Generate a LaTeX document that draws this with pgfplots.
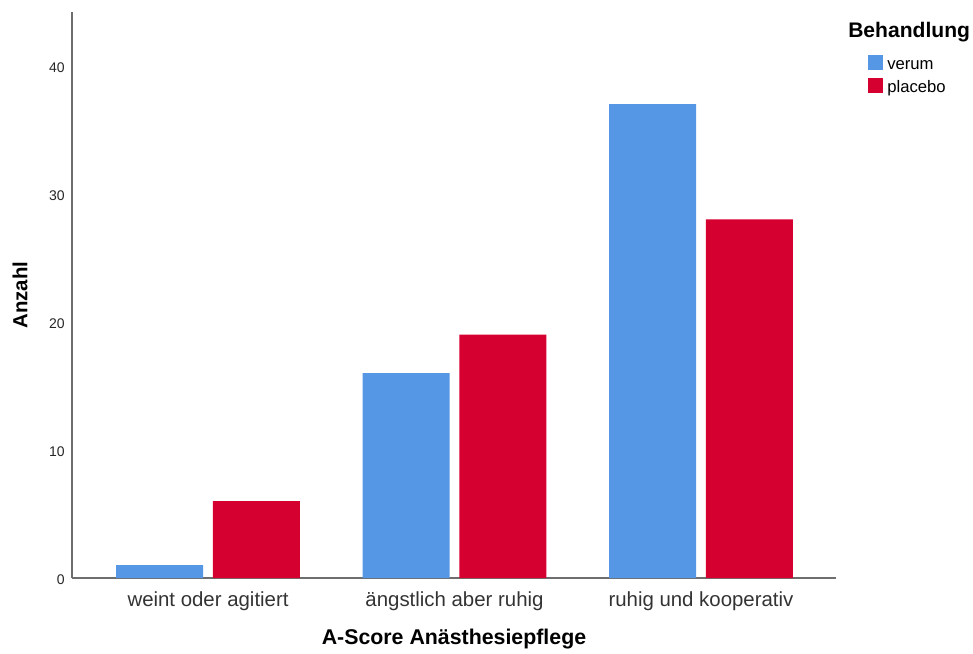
\documentclass[border=0pt]{standalone}
\usepackage{fontspec}
\setmainfont{Liberation Sans}
\usepackage{pgfplots}
\pgfplotsset{compat=1.18}
\definecolor{verum}{RGB}{85,150,229}
\definecolor{placebo}{RGB}{214,0,48}
\definecolor{axisgray}{RGB}{110,110,110}
\begin{document}
\begin{tikzpicture}[x=0.75pt,y=0.75pt]
\path[use as bounding box] (0,0) rectangle (973,653);
\begin{axis}[
  at={(54pt,56.25pt)}, anchor=south west,
  scale only axis, width=573pt, height=424.5pt,
  ybar,
  xmin=-0.552, xmax=2.548, ymin=0, ymax=44.2,
  axis lines=left,
  axis line style={-, draw=axisgray, line width=0.9pt},
  xtick={0,1,2},
  xticklabels={weint oder agitiert, ängstlich aber ruhig, ruhig und kooperativ},
  ytick={0,10,20,30,40},
  major tick length=0pt,
  /pgf/number format/assume math mode=true,
  xticklabel style={anchor=north, inner sep=0pt, yshift=-10pt, font=\fontsize{15.3}{18}\selectfont, text=black!80},
  yticklabel style={anchor=east, inner sep=0pt, xshift=-5.25pt, yshift=-1.5pt, font=\fontsize{10.5}{12}\selectfont, text=black!85},
  xlabel={A-Score Anästhesiepflege},
  ylabel={Anzahl},
  xlabel style={at={(axis description cs:0.5,-0.108)}, anchor=center, font=\bfseries\fontsize{16}{18}\selectfont},
  ylabel style={at={(axis description cs:-0.068,0.5)}, anchor=center, font=\bfseries\fontsize{15.3}{18}\selectfont},
  legend style={at={(axis description cs:1.0419,0.9246)}, anchor=north west, draw=none, fill=none,
    inner sep=0pt, row sep=3.15pt, font=\fontsize{12.5}{14}\selectfont,
    nodes={inner xsep=3pt, inner ysep=0pt, text height=11pt, text depth=3pt}},
  legend cell align=left,
  legend image code/.code={\fill[#1] (0pt,-4.3pt) rectangle (11.25pt,7pt);},
]
\addplot[fill=verum, draw=none, bar width=0.353, bar shift=-0.196] coordinates {(0,1) (1,16) (2,37)};
\addlegendentry{verum}
\addplot[fill=placebo, draw=none, bar width=0.353, bar shift=0.196] coordinates {(0,6) (1,19) (2,28)};
\addlegendentry{placebo}
\end{axis}
\node[anchor=base west, inner sep=0pt, font=\bfseries\fontsize{15.8}{18}\selectfont] at (848,615) {Behandlung};
\end{tikzpicture}
\end{document}
